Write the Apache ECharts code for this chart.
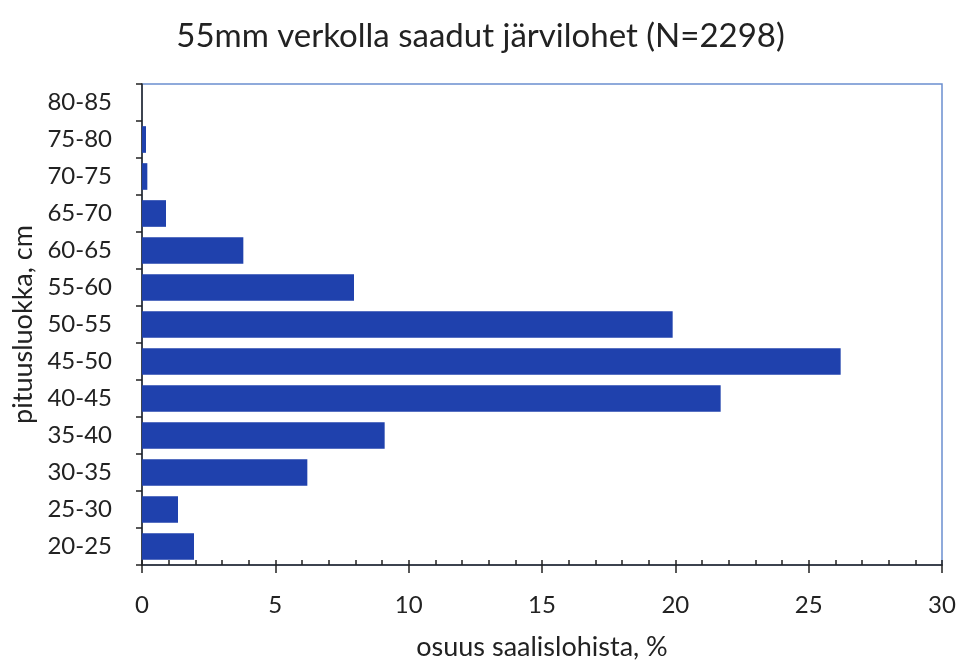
<!DOCTYPE html>
<html><head><meta charset="utf-8">
<script src="https://cdn.jsdelivr.net/npm/echarts@6/dist/echarts.min.js"></script>
<style>html,body{margin:0;padding:0;background:#fff}#c{width:961px;height:663px}</style>
</head><body><div id="c"></div>
<script>
const categories = ['20-25','25-30','30-35','35-40','40-45','45-50','50-55','55-60','60-65','65-70','70-75','75-80','80-85'];
const shares = [1.95, 1.35, 6.2, 9.1, 21.7, 26.2, 19.9, 7.95, 3.8, 0.9, 0.2, 0.15, 0];
const xTicks = [0, 5, 10, 15, 20, 25, 30];
const titleText = '55mm verkolla saadut järvilohet (N=2298)';

const F = 'Lato, "Open Sans", sans-serif';
const chart = echarts.init(document.getElementById('c'));
chart.setOption({
  backgroundColor: '#fff',
  animation: false,
  title: { text: titleText, left: 'center', top: 15,
    textStyle: { fontFamily: F, fontWeight: 'normal', fontSize: 33, color: '#222' } },
  grid: { left: 142, right: 19, top: 84, bottom: 98, show: true, borderColor: '#6b8fcf', borderWidth: 1.5,
    containLabel: false, outerBoundsMode: 'none' },
  xAxis: [{
    type: 'value', min: xTicks[0], max: xTicks[xTicks.length-1], interval: 5,
    axisLine: { show: true, lineStyle: { color: '#222', width: 1.5 } },
    axisTick: { show: true, inside: true, length: 5, lineStyle: { color: '#222', width: 1.5 } },
    minorTick: { show: true, splitNumber: 5, length: 5, lineStyle: { color: '#222', width: 1.5 } },
    splitLine: { show: false },
    axisLabel: { margin: 28, fontFamily: F, fontSize: 24, color: '#222' },
    name: 'osuus saalislohista, %', nameLocation: 'middle', nameGap: 69,
    nameTextStyle: { fontFamily: F, fontSize: 27, color: '#222' }
  }, {
    type: 'value', position: 'bottom', min: xTicks[0], max: xTicks[xTicks.length-1], interval: 5,
    axisLine: { show: false },
    axisTick: { show: true, inside: false, length: 8, lineStyle: { color: '#222', width: 1.5 } },
    axisLabel: { show: false }, splitLine: { show: false }
  }],
  yAxis: {
    type: 'category', data: categories,
    axisLine: { show: true, lineStyle: { color: '#222', width: 1.5 } },
    axisTick: { show: true, length: 6, lineStyle: { color: '#222', width: 1.5 } },
    axisLabel: { margin: 30, fontFamily: F, fontSize: 24, color: '#222' },
    name: 'pituusluokka, cm', nameLocation: 'middle', nameGap: 104, nameRotate: 90,
    nameTextStyle: { fontFamily: F, fontSize: 27, color: '#222' }
  },
  series: [{
    type: 'bar', data: shares, xAxisIndex: 0, barCategoryGap: '28%',
    itemStyle: { color: '#1f41ad' }
  }]
});
</script></body></html>
